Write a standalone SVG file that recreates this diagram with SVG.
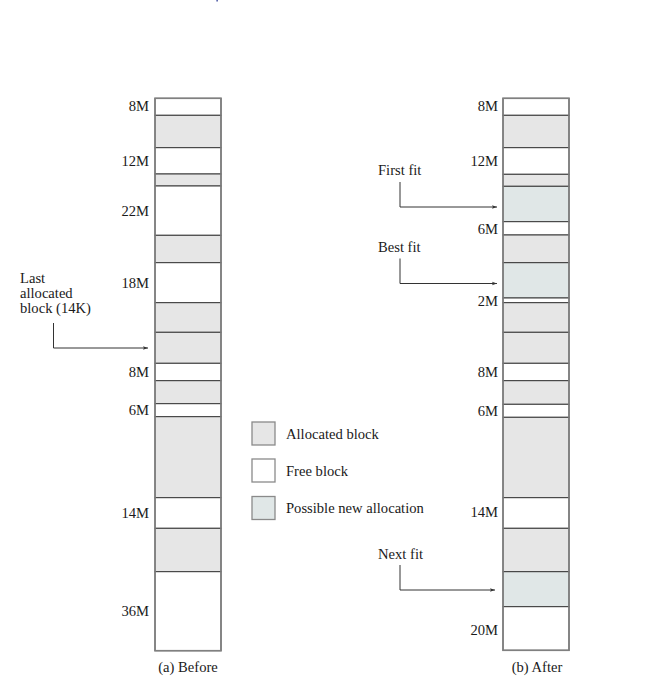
<svg xmlns="http://www.w3.org/2000/svg" width="652" height="685" viewBox="0 0 652 685">
<style>
  text { font-family: "Liberation Serif", "Times New Roman", serif; font-size: 14.6px; fill: #1a1a1a; }
  .lbl { text-anchor: end; }
  .a { fill: #e6e6e6; stroke: #3a3a3a; stroke-width: 1; }
  .f { fill: #ffffff; stroke: #3a3a3a; stroke-width: 1; }
  .p { fill: #e0e7e7; stroke: #3a3a3a; stroke-width: 1; }
  .outer { fill: none; stroke: #808080; stroke-width: 1.6; }
  .lg { stroke: #8a8a8a; stroke-width: 1.3; }
  .conn { fill: none; stroke: #333; stroke-width: 1; }
</style>
<defs>
  <marker id="arr" viewBox="0 0 10 10" refX="10" refY="5" markerWidth="7" markerHeight="5" orient="auto" markerUnits="userSpaceOnUse">
    <path d="M0,1.5 L10,5 L0,8.5 L2,5 Z" fill="#333"/>
  </marker>
</defs>
<rect width="652" height="685" fill="#fff"/>
<rect x="216.5" y="0" width="1.2" height="1.5" fill="#1a2a8a"/>

<g id="before">
  <rect class="f" x="155" y="98.3" width="66" height="17"/>
  <rect class="a" x="155" y="115.3" width="66" height="32.4"/>
  <rect class="f" x="155" y="147.7" width="66" height="26.3"/>
  <rect class="a" x="155" y="174" width="66" height="12"/>
  <rect class="f" x="155" y="186" width="66" height="49.3"/>
  <rect class="a" x="155" y="235.3" width="66" height="27.4"/>
  <rect class="f" x="155" y="262.7" width="66" height="40"/>
  <rect class="a" x="155" y="302.7" width="66" height="29.6"/>
  <rect class="a" x="155" y="332.3" width="66" height="31"/>
  <rect class="f" x="155" y="363.3" width="66" height="17.4"/>
  <rect class="a" x="155" y="380.7" width="66" height="23"/>
  <rect class="f" x="155" y="403.7" width="66" height="13"/>
  <rect class="a" x="155" y="416.7" width="66" height="81"/>
  <rect class="f" x="155" y="497.7" width="66" height="30.6"/>
  <rect class="a" x="155" y="528.3" width="66" height="43.4"/>
  <rect class="f" x="155" y="571.7" width="66" height="79"/>
  <rect class="outer" x="155" y="98.3" width="66" height="552.4"/>
  <text class="lbl" x="149" y="111">8M</text>
  <text class="lbl" x="149" y="166">12M</text>
  <text class="lbl" x="149" y="216">22M</text>
  <text class="lbl" x="149" y="288">18M</text>
  <text class="lbl" x="149" y="377">8M</text>
  <text class="lbl" x="149" y="415">6M</text>
  <text class="lbl" x="149" y="518">14M</text>
  <text class="lbl" x="149" y="616">36M</text>
  <text x="188" y="672" text-anchor="middle">(a) Before</text>
</g>

<g id="after">
  <rect class="f" x="503" y="98.3" width="66" height="17"/>
  <rect class="a" x="503" y="115.3" width="66" height="32.4"/>
  <rect class="f" x="503" y="147.7" width="66" height="26.6"/>
  <rect class="a" x="503" y="174.3" width="66" height="12"/>
  <rect class="p" x="503" y="186.3" width="66" height="35.4"/>
  <rect class="f" x="503" y="221.7" width="66" height="13.3"/>
  <rect class="a" x="503" y="235" width="66" height="27.7"/>
  <rect class="p" x="503" y="262.7" width="66" height="35.3"/>
  <rect class="f" x="503" y="298" width="66" height="4.7"/>
  <rect class="a" x="503" y="302.7" width="66" height="29.6"/>
  <rect class="a" x="503" y="332.3" width="66" height="31"/>
  <rect class="f" x="503" y="363.3" width="66" height="17.4"/>
  <rect class="a" x="503" y="380.7" width="66" height="23.6"/>
  <rect class="f" x="503" y="404.3" width="66" height="13"/>
  <rect class="a" x="503" y="417.3" width="66" height="80.4"/>
  <rect class="f" x="503" y="497.7" width="66" height="30.6"/>
  <rect class="a" x="503" y="528.3" width="66" height="43.4"/>
  <rect class="p" x="503" y="571.7" width="66" height="35"/>
  <rect class="f" x="503" y="606.7" width="66" height="43.6"/>
  <rect class="outer" x="503" y="98.3" width="66" height="552"/>
  <text class="lbl" x="498" y="111">8M</text>
  <text class="lbl" x="498" y="166">12M</text>
  <text class="lbl" x="498" y="234">6M</text>
  <text class="lbl" x="498" y="306">2M</text>
  <text class="lbl" x="498" y="377">8M</text>
  <text class="lbl" x="498" y="416">6M</text>
  <text class="lbl" x="498" y="517">14M</text>
  <text class="lbl" x="498" y="635">20M</text>
  <text x="537" y="672" text-anchor="middle">(b) After</text>
</g>

<g id="last-allocated">
  <text x="20" y="283">Last</text>
  <text x="20" y="298">allocated</text>
  <text x="20" y="313">block (14K)</text>
</g>
<g id="first-fit"><text x="378" y="175">First fit</text></g>
<g id="best-fit"><text x="378" y="252">Best fit</text></g>
<g id="next-fit"><text x="378" y="559">Next fit</text></g>

<g id="legend">
  <rect class="lg" x="252" y="422" width="23" height="23" fill="#e6e6e6"/>
  <rect class="lg" x="252" y="459" width="23" height="23" fill="#ffffff"/>
  <rect class="lg" x="252" y="496.5" width="23" height="23" fill="#e0e7e7"/>
  <text x="286" y="439">Allocated block</text>
  <text x="286" y="476">Free block</text>
  <text x="286" y="513">Possible new allocation</text>
</g>

<g id="connectors">
  <path class="conn" d="M53.5,323 V348 H148" marker-end="url(#arr)"/>
  <path class="conn" d="M400,182 V207 H497" marker-end="url(#arr)"/>
  <path class="conn" d="M400,258.5 V283.5 H497" marker-end="url(#arr)"/>
  <path class="conn" d="M400,565 V590 H495" marker-end="url(#arr)"/>
</g>
</svg>
